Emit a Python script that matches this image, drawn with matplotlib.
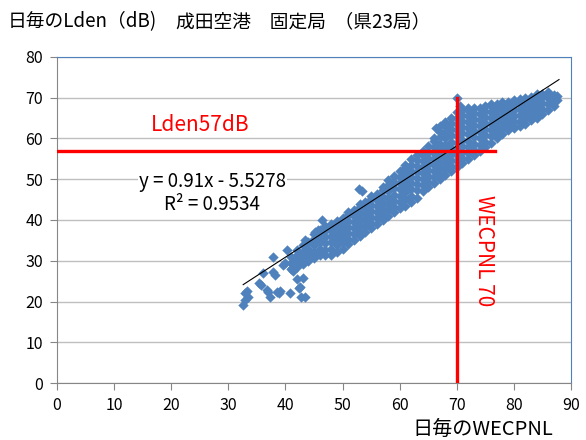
import matplotlib
matplotlib.use("Agg")
import matplotlib.pyplot as plt

plt.rcParams['font.family'] = ['Noto Sans CJK JP', 'DejaVu Sans']

# daily WECPNL columns of the dense band and the Lden values in each column
band_wecpnl = [41, 42, 43, 44, 45, 46, 47, 48, 49, 50, 51, 52, 53, 54, 55, 56,
               57, 58, 59, 60, 61, 62, 63, 64, 65, 66, 67, 68, 69, 70, 71, 72,
               73, 74, 75, 76, 77, 78, 79, 80, 81, 82, 83, 84, 85, 86, 87, 87.5]
band_lden = [
    [28.0, 29.5, 31.0],
    [28.5, 30.0, 31.5, 32.75],
    [29.25, 30.75, 32.25, 33.75],
    [30.0, 31.5, 33.0, 34.5],
    [30.75, 32.25, 33.75, 35.25, 36.5],
    [31.5, 33.0, 34.5, 36.0, 37.5],
    [31.5, 32.75, 34.25, 35.75, 37.25, 38.5],
    [31.5, 33.0, 34.5, 36.0, 37.5, 39.0],
    [32.25, 33.75, 35.25, 36.75, 38.25, 39.75],
    [33.0, 34.5, 36.0, 37.5, 39.0, 40.5],
    [34.0, 35.25, 36.75, 38.25, 39.75, 41.25, 42.0],
    [35.0, 36.5, 38.0, 39.5, 41.0, 42.5],
    [36.0, 37.25, 38.75, 40.25, 41.75, 43.25, 44.0],
    [37.0, 38.5, 40.0, 41.5, 43.0, 44.5],
    [38.0, 39.25, 40.75, 42.25, 43.75, 45.25, 46.0],
    [39.0, 40.5, 42.0, 43.5, 45.0, 46.5],
    [40.0, 41.25, 42.75, 44.25, 45.75, 47.25, 48.0],
    [41.0, 42.5, 44.0, 45.5, 47.0, 48.5, 49.75],
    [42.0, 43.25, 44.75, 46.25, 47.75, 49.25, 50.75],
    [43.0, 44.5, 46.0, 47.5, 49.0, 50.5, 52.0],
    [43.5, 45.25, 46.75, 48.25, 49.75, 51.25, 52.75, 53.5],
    [44.5, 46.0, 47.5, 49.0, 50.5, 52.0, 53.5, 55.0],
    [45.5, 47.25, 48.75, 50.25, 51.75, 53.25, 54.75, 56.0],
    [47.0, 48.5, 50.0, 51.5, 53.0, 54.5, 56.0, 57.0],
    [48.0, 49.25, 50.75, 52.25, 53.75, 55.25, 56.75, 58.25],
    [49.0, 50.5, 52.0, 53.5, 55.0, 56.5, 58.0, 59.5, 60.0],
    [50.0, 51.25, 52.75, 54.25, 55.75, 57.25, 58.75, 60.25, 61.5, 63.0],
    [51.0, 52.5, 54.0, 55.5, 57.0, 58.5, 60.0, 61.5, 63.0, 64.0],
    [52.0, 53.25, 54.75, 56.25, 57.75, 59.25, 60.75, 62.25, 63.75, 65.0],
    [53.0, 54.5, 56.0, 57.5, 59.0, 60.5, 62.0, 63.5, 65.0, 66.5],
    [54.0, 55.25, 56.75, 58.25, 59.75, 61.25, 62.75, 64.25, 65.75, 67.0],
    [55.0, 56.5, 58.0, 59.5, 61.0, 62.5, 64.0, 65.5, 67.0, 67.5],
    [56.0, 57.25, 58.75, 60.25, 61.75, 63.25, 64.75, 66.25, 67.5],
    [57.0, 58.5, 60.0, 61.5, 63.0, 64.5, 66.0, 67.5],
    [58.0, 59.25, 60.75, 62.25, 63.75, 65.25, 66.75, 68.0],
    [59.0, 60.5, 62.0, 63.5, 65.0, 66.5, 68.0, 68.5],
    [60.0, 61.25, 62.75, 64.25, 65.75, 67.25, 68.5],
    [61.0, 62.5, 64.0, 65.5, 67.0, 68.5, 69.0],
    [62.0, 63.25, 64.75, 66.25, 67.75, 69.0],
    [62.5, 64.0, 65.5, 67.0, 68.5, 69.5],
    [63.0, 64.25, 65.75, 67.25, 68.75, 69.75],
    [63.5, 65.0, 66.5, 68.0, 69.5, 70.0],
    [64.5, 65.75, 67.25, 68.75, 70.25],
    [65.0, 66.5, 68.0, 69.5, 71.0],
    [66.0, 67.25, 68.75, 70.25, 71.0],
    [67.0, 68.5, 70.0, 71.5],
    [68.0, 69.25, 70.75],
    [69.5, 70.5],
]

# scattered days outside the band
scatter_wecpnl = [32.6, 32.9, 33.0, 33.5, 33.3, 35.3, 35.7, 36.1, 36.7, 37.0,
                  37.3, 37.9, 37.9, 38.2, 38.5, 38.8, 39.1, 39.6, 39.9, 40.2,
                  40.8, 41.1, 41.4, 41.7, 42.0, 42.3, 42.6, 42.8, 43.1, 43.4,
                  43.4, 44.3, 45.2, 45.7, 46.4, 52.8, 53.4, 66.3, 70.0, 70.5]
scatter_lden = [19.1, 20.3, 22.0, 21.2, 22.6, 24.5, 24.0, 26.9, 22.8, 22.4,
                21.2, 31.0, 27.3, 26.5, 22.4, 22.0, 22.6, 29.0, 29.4, 32.6,
                22.0, 28.1, 27.5, 30.2, 25.5, 23.2, 23.6, 21.2, 25.7, 35.1,
                21.2, 30.6, 37.1, 37.5, 39.9, 47.6, 47.2, 62.5, 70.0, 68.0]

# linear trendline reported by the fit
slope = 0.91
intercept = -5.5278
r_squared = 0.9534
trend_range = [32.6, 87.9]

# reference levels
lden_ref = 57
wecpnl_ref = 70
lden_ref_xmax = 76.7

x_ticks = [0, 10, 20, 30, 40, 50, 60, 70, 80, 90]
y_ticks = [0, 10, 20, 30, 40, 50, 60, 70, 80]

xs, ys = [], []
for x, col in zip(band_wecpnl, band_lden):
    xs += [x] * len(col)
    ys += col
xs += scatter_wecpnl
ys += scatter_lden

fig = plt.figure(figsize=(5.86, 4.4), dpi=100)
ax = fig.add_axes([57 / 586, 1 - 383 / 440, 514 / 586, 326 / 440])

ax.scatter(xs, ys, marker='D', s=28, color='#4F81BD', linewidths=0, zorder=2)

tx = trend_range
ax.plot(tx, [slope * v + intercept for v in tx], color='black', lw=0.8, zorder=3)

ax.plot([0, lden_ref_xmax], [lden_ref, lden_ref], color='#FF0000', lw=2.4, zorder=4)
ax.plot([wecpnl_ref, wecpnl_ref], [0, 70], color='#FF0000', lw=2.4, zorder=4)

ax.text(25.0, 63.3, 'Lden57dB', color='#FF0000', fontsize=15, ha='center', va='center')
ax.text(74.8, 32.6, 'WECPNL 70', color='#FF0000', fontsize=15, rotation=270,
        ha='center', va='center')
ax.text(27.2, 46.6, f'y = {slope}x - {-intercept}\nR² = {r_squared}', fontsize=13.5,
        ha='center', va='center', linespacing=1.1, zorder=5,
        bbox=dict(facecolor='white', edgecolor='none', pad=1))

ax.set_xlim(0, 90)
ax.set_ylim(0, 80)
ax.set_xticks(x_ticks)
ax.set_yticks(y_ticks)
ax.grid(axis='y', color='#BFBFBF', lw=1)
ax.set_axisbelow(True)
ax.tick_params(direction='out', length=5, color='#868686', labelsize=11.5, pad=5)
for side in ['left', 'bottom']:
    ax.spines[side].set_color('#868686')
for side in ['top', 'right']:
    ax.spines[side].set_color('#4F81BD')

fig.text(8 / 586, 1 - 22 / 440, '日毎のLden（dB)', fontsize=13.5, va='center')
fig.text(176 / 586, 1 - 22 / 440, '成田空港　固定局  （県23局）', fontsize=13.5, va='center')
fig.text(483 / 586, 1 - 429 / 440, '日毎のWECPNL', fontsize=14.5, ha='center', va='center')

fig.savefig('out.png', dpi=100)
